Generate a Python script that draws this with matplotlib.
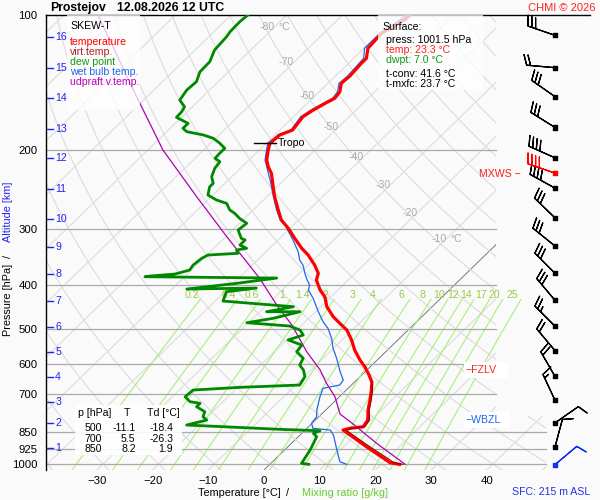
import numpy as np
import matplotlib
matplotlib.use("Agg")
import matplotlib.pyplot as plt
from matplotlib.patches import Polygon, Rectangle
from matplotlib.ticker import NullLocator

plt.rcParams['font.family'] = ['Liberation Sans', 'DejaVu Sans']
FS = 7.6

# sounding (pressure hPa, temperature degC)
temp_p = [100.0, 101.7, 109.8, 118.6, 124.9, 128.1, 136.7, 142.0, 148.2, 153.3, 156.8, 162.8,
          168.5, 180.4, 185.0, 193.1, 199.8, 210.4, 217.7, 225.2, 241.3, 253.9, 271.8, 286.1,
          298.6, 314.3, 330.8, 342.4, 360.4, 376.1, 389.3, 409.7, 424.1, 446.3, 469.8, 486.0,
          503.0, 529.4, 557.3, 586.6, 608.0, 633.5, 656.6, 684.2, 720.2, 758.1, 798.0, 825.9,
          832.7, 840.0, 861.7, 915.1, 969.7, 993.4, 1001.5]
temp_t = [-57.9, -57.9, -59.6, -59.3, -57.7, -57.7, -57.4, -57.6, -56.3, -56.0, -56.7, -57.7,
          -58.3, -57.7, -59.1, -59.3, -58.4, -56.8, -55.3, -53.5, -50.7, -48.6, -45.5, -43.1,
          -40.3, -37.3, -34.2, -31.8, -28.8, -26.6, -25.7, -23.2, -21.1, -18.9, -15.9, -13.5,
          -11.0, -8.3, -5.9, -3.1, -0.9, 1.3, 3.1, 4.5, 6.1, 7.6, 9.4, 9.8,
          7.7, 6.8, 9.0, 14.1, 19.2, 21.3, 23.3]

dew_p = [100.0, 103.5, 108.9, 111.8, 119.7, 127.1, 133.8, 140.8, 146.9, 154.7, 160.1, 164.2,
         169.0, 174.3, 178.8, 181.9, 185.0, 188.2, 193.1, 198.1, 203.3, 208.5, 212.2, 219.5,
         229.2, 237.1, 241.3, 251.7, 258.3, 262.7, 271.8, 276.5, 283.7, 291.0, 301.2, 314.3,
         317.0, 325.3, 330.8, 333.7, 339.4, 342.4, 348.2, 360.4, 369.8, 377.5, 381.4, 382.7,
         385.3, 395.9, 407.6, 405.6, 413.3, 433.5, 446.3, 457.9, 457.9, 473.7, 484.5, 492.8,
         503.0, 516.0, 529.4, 543.2, 562.1, 581.5, 601.8, 617.4, 639.0, 666.9, 674.8, 684.2,
         708.1, 726.5, 732.5, 745.3, 764.7, 784.5, 798.0, 818.7, 836.9, 843.0, 854.3, 869.3,
         930.7, 996.4, 1001.5]
dew_t = [-87.0, -87.2, -87.1, -86.8, -86.5, -85.2, -85.1, -83.9, -84.1, -83.5, -81.4, -81.0,
         -80.9, -77.7, -77.7, -76.4, -72.8, -70.4, -68.3, -66.5, -66.5, -66.4, -64.9, -64.6,
         -63.6, -62.1, -62.1, -60.9, -58.4, -56.0, -54.2, -52.7, -50.9, -48.7, -49.0, -46.9,
         -45.9, -45.9, -44.1, -45.6, -44.7, -49.8, -50.3, -50.6, -50.3, -52.2, -56.3, -57.1,
         -33.2, -39.4, -47.3, -35.0, -39.7, -38.6, -24.9, -28.8, -22.8, -26.4, -30.3, -22.0,
         -19.4, -17.9, -19.7, -16.3, -16.0, -13.6, -13.0, -11.4, -9.9, -9.3, -19.6, -27.5,
         -27.7, -25.9, -23.8, -23.8, -21.4, -20.8, -19.5, -22.2, -4.7, 2.8, 2.1, 3.3,
         4.6, 5.5, 7.0]

wb_p = [100.0, 109.8, 118.6, 124.9, 136.7, 142.0, 148.2, 153.3, 156.8, 162.8, 168.5, 180.4,
        185.0, 193.1, 199.8, 210.4, 233.1, 251.7, 271.8, 286.1, 293.6, 317.0, 336.7, 351.3,
        360.4, 376.1, 385.9, 399.4, 409.7, 427.6, 457.9, 482.0, 498.6, 524.8, 552.4, 581.5,
        622.8, 650.0, 666.9, 678.2, 708.1, 758.1, 784.5, 811.6, 832.7, 840.0, 861.7, 930.7,
        988.3, 1001.5]
wb_t = [-58.5, -59.9, -59.9, -58.2, -57.8, -58.0, -56.7, -56.4, -57.0, -58.1, -58.7, -58.0,
        -59.4, -59.7, -58.7, -57.1, -52.5, -49.2, -45.8, -43.3, -41.5, -37.3, -34.2, -32.4,
        -30.9, -29.0, -27.8, -26.0, -25.3, -22.9, -19.5, -16.8, -14.7, -12.2, -10.1, -7.6,
        -4.5, -2.4, -2.1, -4.5, -3.5, -1.6, -0.4, -0.1, 1.1, 4.5, 6.0, 9.4,
        12.1, 13.8]

tv_p = [656.6, 684.2, 720.2, 758.1, 798.0, 825.9, 832.7, 840.0, 861.7, 915.1, 969.7, 993.4, 1001.5]
tv_t = [3.1, 4.7, 6.3, 7.8, 9.7, 10.1, 8.1, 7.3, 9.5, 14.7, 19.9, 22.0, 23.9]

upd_p = [100.0, 146.9, 171.3, 199.8, 253.9, 311.7, 385.9, 442.5, 490.2, 562.1, 617.4, 661.1,
         708.1, 773.7, 814.5, 899.3, 1001.5]
upd_t = [-113.9, -93.7, -85.5, -77.3, -62.6, -49.8, -36.2, -28.2, -21.8, -14.2, -8.4, -4.8,
         -0.8, 3.3, 7.5, 15.3, 24.3]

# winds: pressure, direction (from), speed in kt
wind_p = [1003, 916, 810, 721, 638, 559, 493, 432, 376, 327, 283, 243, 225, 208, 178, 152, 131, 111]
wind_dir = [50, 15, 55, 335, 330, 320, 315, 320, 315, 309, 314, 299, 289, 294, 302, 305, 275, 289]
wind_kt = [10, 10, 10, 15, 20, 20, 25, 30, 30, 30, 30, 40, 40, 40, 30, 30, 20, 30]

isobars = [100, 200, 300, 400, 500, 600, 700, 850, 925, 1000]
height_km = list(range(1, 17))
height_p = [922.6, 811.6, 726.5, 640.0, 563.0, 494.0, 432.4, 377.5, 328.6, 284.7, 243.5,
            208.5, 179.7, 153.3, 131.4, 112.1]
iso_lab_t = [-80, -70, -60, -50, -40, -30, -20, -10]
iso_lab_p = [106.3, 127.3, 151.6, 177.6, 207.0, 239.0, 275.5, 315.0]
mix_ratios = [0.2, 0.4, 0.6, 1, 1.4, 2, 3, 4, 6, 8, 10, 12, 14, 17, 20, 25]
table_p = [500, 700, 850]
table_t = [-11.1, 5.5, 8.2]
table_td = [-18.4, -26.3, 1.9]
tropo_p, tropo_t = 193.1, -59.3
sfc = {'press': 1001.5, 'temp': 23.3, 'dwpt': 7.0, 't-conv': 41.6, 't-mxfc': 23.7}

P_BOT = 1031.0
PX_C = 5.57
SKEW = 83.0


def skx(t, p):
    return np.asarray(t, float) + SKEW * np.log10(P_BOT / np.asarray(p, float))


def fpx(x, y):
    return x / 600.0, 1 - y / 500.0


fig = plt.figure(figsize=(6, 5), dpi=100)
fig.patch.set_facecolor('#fafafa')
X0, X1, Y0, Y1 = 46, 600, 15, 470
ax = fig.add_axes([X0 / 600, 1 - Y1 / 500, (X1 - X0) / 600, (Y1 - Y0) / 500])
xl = (X0 - 264) / PX_C
xr = xl + (X1 - X0) / PX_C
xr_up = (496 - 264) / PX_C
xr_lo = (546 - 264) / PX_C
ax.set_xlim(xl, xr)
ax.set_yscale('log')
ax.set_ylim(P_BOT, 100)
ax.patch.set_alpha(0)
for s in ['top', 'right', 'bottom']:
    ax.spines[s].set_visible(False)
ax.spines['left'].set_linewidth(1.0)

clip = Polygon([(xl, 100), (xr_up, 100), (xr_up, 780), (xr_lo, 780), (xr_lo, P_BOT), (xl, P_BOT)],
               closed=True, transform=ax.transData, fc='none', ec='none')

pp = np.logspace(2, np.log10(P_BOT), 200)
for t in range(-160, 60, 10):
    ln, = ax.plot(skx(t, pp), pp, color='#666666' if t == 0 else '#dcdcdc',
                  lw=0.6 if t == 0 else 0.8, zorder=1)
    ln.set_clip_path(clip)
for th in range(-40, 260, 10):
    tt = (th + 273.15) * (pp / 1000.0) ** 0.2857 - 273.15
    ln, = ax.plot(skx(tt, pp), pp, color='#dcdcdc', lw=0.8, zorder=1)
    ln.set_clip_path(clip)

pm = np.logspace(np.log10(430), np.log10(P_BOT), 60)
for w in mix_ratios:
    e = w * pm / (622.0 + w)
    a = np.log(e / 6.112)
    td = 243.5 * a / (17.67 - a)
    ax.plot(skx(td, pm), pm, color='#a8f07c', lw=0.8, zorder=1.5)
    e4 = w * 430 / (622.0 + w)
    a4 = np.log(e4 / 6.112)
    lab = '%g' % w
    ax.text(skx(243.5 * a4 / (17.67 - a4), 430) - 1.5, 420, lab, color='#99cc44', fontsize=FS,
            ha='center', va='center', zorder=2)

for p in isobars:
    if p == 100:
        ax.plot([xl, (590 - 264) / PX_C], [p, p], color='black', lw=1.0, clip_on=False, zorder=3)
    else:
        ax.plot([xl, xr_up if p < 800 else xr_lo], [p, p], color='#aaaaaa', lw=0.9, zorder=2)

for t, p in zip(iso_lab_t, iso_lab_p):
    ax.text(skx(t, p), p, str(t), color='#aaaaaa', fontsize=FS, ha='right', va='center', zorder=2)
    if t in (-80, -10):
        ax.annotate('°C', (skx(t, p), p), xytext=(3, 0), textcoords='offset points',
                    color='#aaaaaa', fontsize=FS, ha='left', va='center', zorder=2)

# profiles
ax.plot(skx(upd_t, upd_p), upd_p, color='#b000b0', lw=0.9, zorder=4)
ax.plot(skx(wb_t, wb_p), wb_p, color='#2266ee', lw=0.9, zorder=4)
ax.plot(skx(dew_t, dew_p), dew_p, color='#008800', lw=2.0, zorder=5)
ax.plot(skx(temp_t, temp_p), temp_p, color='#ff0000', lw=2.3, zorder=6)
ax.plot(skx(tv_t, tv_p), tv_p, color='#990000', lw=0.8, zorder=7)

xt = skx(tropo_t, tropo_p)
ax.plot([xt - 2.9, xt + 1.1], [tropo_p, tropo_p], color='black', lw=1.0, zorder=8)
ax.text(xt + 1.4, tropo_p, 'Tropo', fontsize=FS, va='center', zorder=8)

# axes ticks
ax.set_yticks(isobars)
ax.set_yticklabels([str(p) for p in isobars], fontsize=FS + 0.6)
ax.yaxis.set_minor_locator(NullLocator())
ax.tick_params(axis='y', length=0, pad=6)
xticks = list(range(-30, 50, 10))
ax.set_xticks(xticks)
ax.set_xticklabels([str(t).replace('-', '\u2212') for t in xticks], fontsize=FS + 0.6)
ax.tick_params(axis='x', length=0, pad=4)

for km, p in zip(height_km, height_p):
    ax.plot([xl + 0.2, xl + 1.3], [p, p], color='#2222ee', lw=1.0, zorder=3)
    ax.text(xl + 1.65, p, str(km), color='#2222ee', fontsize=FS, va='center', zorder=3)

# wind barbs
bx = np.full(len(wind_p), (555 - 264) / PX_C)
d = np.radians(wind_dir)
u = -np.array(wind_kt) * np.sin(d)
v = -np.array(wind_kt) * np.cos(d)
cols = ['black'] * len(wind_p)
cols[0] = '#1133ee'
cols[wind_p.index(225)] = '#ff0000'
ax.barbs(bx, wind_p, u, v, barbcolor=cols, flagcolor=cols, length=6.4, linewidth=0.9,
         sizes={'spacing': 0.14, 'height': 0.36, 'width': 0.25},
         clip_on=False, zorder=8)
ax.scatter(bx, wind_p, marker='s', s=9, c=cols, clip_on=False, zorder=9)

# boxes
for (bx0, by0, bx1, by1, al) in [(67, 15, 140, 110, 0.75), (378, 15, 483, 90, 0.75),
                                 (75, 405, 182, 455, 0.9), (464, 362, 508, 378, 1.0),
                                 (464, 412, 510, 428, 1.0)]:
    fig.patches.append(Rectangle(fpx(bx0, by1), (bx1 - bx0) / 600, (by1 - by0) / 500,
                                 transform=fig.transFigure, fc='white', ec='none', alpha=al, zorder=1))

# texts
fig.text(*fpx(50, 8), 'Prostejov', fontsize=8.8, weight='bold', va='center')
fig.text(*fpx(117, 8), '12.08.2026 12 UTC', fontsize=8.8, weight='bold', va='center')
fig.text(*fpx(596, 8), 'CHMI © 2026', fontsize=FS + 0.4, color='#ff2020', ha='right', va='center')

legend = [('SKEW-T', 'black'), ('temperature', '#ff0000'), ('virt.temp.', '#aa2222'),
          ('dew point', '#119911'), ('wet bulb temp.', '#2266ee'), ('udpraft v.temp.', '#bb00bb')]
for i, (s, c) in enumerate(legend):
    y = 26 if i == 0 else 42.3 + (i - 1) * 9.85
    fig.text(*fpx(70, y), s, color=c, fontsize=FS, va='center')

fig.text(*fpx(382, 27), 'Surface:', fontsize=FS, va='center')
fig.text(*fpx(386, 40), 'press: %.1f hPa' % sfc['press'], fontsize=FS, va='center')
fig.text(*fpx(386, 50), 'temp: %.1f °C' % sfc['temp'], fontsize=FS, va='center', color='#ff2020')
fig.text(*fpx(386, 60), 'dwpt: %.1f °C' % sfc['dwpt'], fontsize=FS, va='center', color='#119911')
fig.text(*fpx(386, 74), 't-conv: %.1f °C' % sfc['t-conv'], fontsize=FS, va='center')
fig.text(*fpx(386, 84), 't-mxfc: %.1f °C' % sfc['t-mxfc'], fontsize=FS, va='center')

fig.text(*fpx(78, 413), 'p [hPa]', fontsize=FS, va='center')
fig.text(*fpx(127, 413), 'T', fontsize=FS, va='center', ha='center')
fig.text(*fpx(147, 413), 'Td [°C]', fontsize=FS, va='center')
for i, (p, t, td) in enumerate(zip(table_p, table_t, table_td)):
    y = 428.3 + i * 10.3
    fig.text(*fpx(101.7, y), str(p), fontsize=FS, va='center', ha='right')
    fig.text(*fpx(135.7, y), '%.1f' % t, fontsize=FS, va='center', ha='right')
    fig.text(*fpx(173.3, y), '%.1f' % td, fontsize=FS, va='center', ha='right')

fig.text(*fpx(521, 174), 'MXWS \u2212', fontsize=FS, va='center', ha='right', color='#ff2020')
fig.text(*fpx(465, 370), '\u2212FZLV', fontsize=FS, va='center', color='#ff2020')
fig.text(*fpx(465, 420), '\u2212WBZL', fontsize=FS, va='center', color='#2266ee')

fig.text(*fpx(197.7, 493), 'Temperature [°C]', fontsize=FS + 0.2, va='center')
fig.text(*fpx(288, 493), '/', fontsize=FS + 0.2, va='center', ha='center')
fig.text(*fpx(301.7, 493), 'Mixing ratio [g/kg]', fontsize=FS + 0.2, va='center', color='#66cc33')
fig.text(*fpx(551, 492), 'SFC: 215 m ASL', fontsize=FS, va='center', ha='center', color='#2233dd')

fig.text(*fpx(8, 300), 'Pressure [hPa]', fontsize=FS + 0.2, rotation=90, va='center', ha='center')
fig.text(*fpx(8, 256), '/', fontsize=FS + 0.2, rotation=90, va='center', ha='center')
fig.text(*fpx(8, 212), 'Altitude [km]', fontsize=FS + 0.2, rotation=90, va='center', ha='center',
         color='#2222ee')

fig.savefig('out.png', dpi=100, facecolor=fig.get_facecolor())
